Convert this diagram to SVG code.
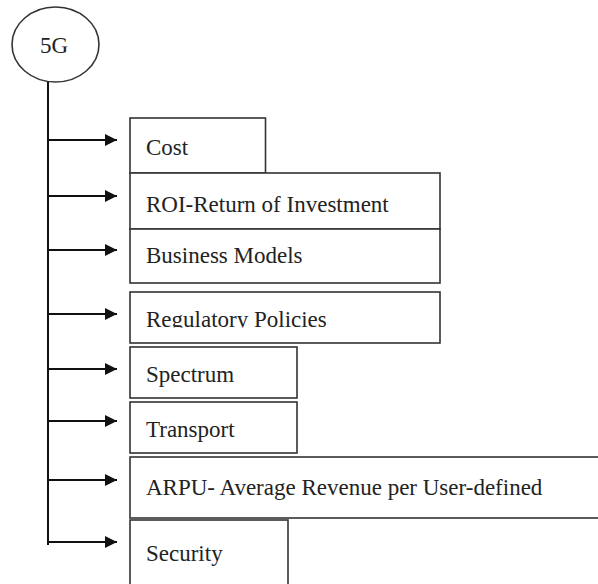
<svg xmlns="http://www.w3.org/2000/svg" width="598" height="584" viewBox="0 0 598 584">
<style>
.box{fill:#fff;stroke:#333;stroke-width:1.6}
.lbl{font-family:"Liberation Serif","Times New Roman",serif;font-size:23px;fill:#222}
.conn{stroke:#111;stroke-width:2;fill:none}
</style>
<defs>
<marker id="ah" markerWidth="13" markerHeight="12" refX="12" refY="6" orient="auto" markerUnits="userSpaceOnUse">
<path d="M0,0 L12,6 L0,12 Z" fill="#111"/>
</marker>
<clipPath id="regclip"><rect x="130" y="292" width="310" height="35.5"/></clipPath>
</defs>
<rect width="598" height="584" fill="#fff"/>
<g id="n-5g">
<ellipse cx="55.5" cy="44.5" rx="43.5" ry="37.5" fill="#fff" stroke="#333" stroke-width="1.6"/>
<text class="lbl" x="54" y="53" text-anchor="middle">5G</text>
</g>
<g id="connectors">
<line class="conn" x1="48" y1="82" x2="48" y2="545"/>
<line class="conn" x1="47" y1="140" x2="117" y2="140" marker-end="url(#ah)"/>
<line class="conn" x1="47" y1="196" x2="117" y2="196" marker-end="url(#ah)"/>
<line class="conn" x1="47" y1="250" x2="117" y2="250" marker-end="url(#ah)"/>
<line class="conn" x1="47" y1="314" x2="117" y2="314" marker-end="url(#ah)"/>
<line class="conn" x1="47" y1="369" x2="117" y2="369" marker-end="url(#ah)"/>
<line class="conn" x1="47" y1="421" x2="117" y2="421" marker-end="url(#ah)"/>
<line class="conn" x1="47" y1="480" x2="117" y2="480" marker-end="url(#ah)"/>
<line class="conn" x1="47" y1="542" x2="117" y2="542" marker-end="url(#ah)"/>
</g>
<g id="n-cost">
<rect class="box" x="130" y="118" width="135.5" height="55"/>
<text class="lbl" x="146" y="155">Cost</text>
</g>
<g id="n-roi">
<rect class="box" x="130" y="173" width="310" height="56"/>
<text class="lbl" x="146" y="212">ROI-Return of Investment</text>
</g>
<g id="n-business">
<rect class="box" x="130" y="229" width="310" height="54"/>
<text class="lbl" x="146" y="263">Business Models</text>
</g>
<g id="n-regulatory">
<rect class="box" x="130" y="292" width="310" height="51"/>
<text class="lbl" x="146" y="327" clip-path="url(#regclip)">Regulatory Policies</text>
</g>
<g id="n-spectrum">
<rect class="box" x="130" y="347" width="167" height="51"/>
<text class="lbl" x="146" y="382">Spectrum</text>
</g>
<g id="n-transport">
<rect class="box" x="130" y="402" width="167" height="51"/>
<text class="lbl" x="146" y="437">Transport</text>
</g>
<g id="n-arpu">
<rect class="box" x="130" y="457" width="480" height="61"/>
<text class="lbl" x="146" y="495">ARPU- Average Revenue per User-defined</text>
</g>
<g id="n-security">
<rect class="box" x="130" y="520" width="158" height="80"/>
<text class="lbl" x="146" y="561">Security</text>
</g>
</svg>
